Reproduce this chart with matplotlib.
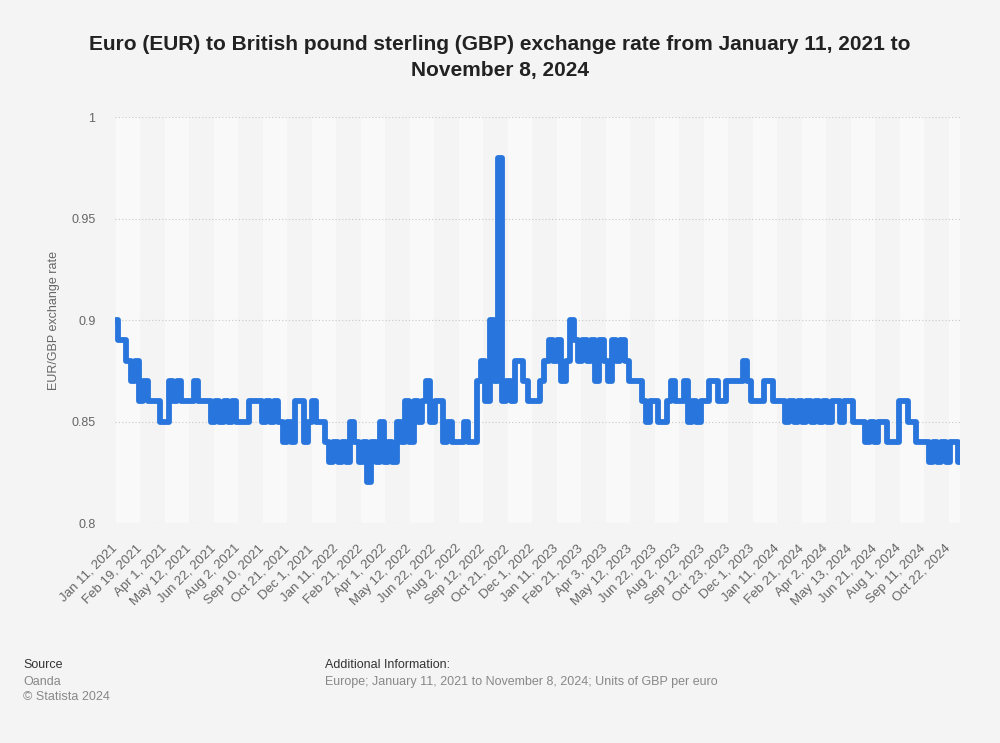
import matplotlib.pyplot as plt
import numpy as np
import pandas as pd

plt.rcParams['font.family'] = ['Liberation Sans', 'DejaVu Sans']

# weekly readings (Mondays) from Jan 11, 2021, plus the last day Nov 8, 2024
start = '2021-01-11'
week_dates = list(pd.date_range(start, '2024-11-04', freq='7D').strftime('%Y-%m-%d')) + ['2024-11-08']
rates = [
    0.90, 0.89, 0.89, 0.88, 0.87, 0.88, 0.86, 0.87, 0.86, 0.86,
    0.86, 0.85, 0.85, 0.87, 0.86, 0.87, 0.86, 0.86, 0.86, 0.87,
    0.86, 0.86, 0.86, 0.85, 0.86, 0.85, 0.86, 0.85, 0.86, 0.85,
    0.85, 0.85, 0.86, 0.86, 0.86, 0.85, 0.86, 0.85, 0.86, 0.85,
    0.84, 0.85, 0.84, 0.86, 0.86, 0.84, 0.85, 0.86, 0.85, 0.85,
    0.84, 0.83, 0.84, 0.83, 0.84, 0.83, 0.85, 0.84, 0.83, 0.84,
    0.82, 0.84, 0.83, 0.85, 0.83, 0.84, 0.83, 0.85, 0.84, 0.86,
    0.84, 0.86, 0.85, 0.86, 0.87, 0.85, 0.86, 0.86, 0.84, 0.85,
    0.84, 0.84, 0.84, 0.85, 0.84, 0.84, 0.87, 0.88, 0.86, 0.90,
    0.87, 0.98, 0.86, 0.87, 0.86, 0.88, 0.88, 0.87, 0.86, 0.86,
    0.86, 0.87, 0.88, 0.89, 0.88, 0.89, 0.87, 0.88, 0.90, 0.89,
    0.88, 0.89, 0.88, 0.89, 0.87, 0.89, 0.88, 0.87, 0.89, 0.88,
    0.89, 0.88, 0.87, 0.87, 0.87, 0.86, 0.85, 0.86, 0.86, 0.85,
    0.85, 0.86, 0.87, 0.86, 0.86, 0.87, 0.85, 0.86, 0.85, 0.86,
    0.86, 0.87, 0.87, 0.86, 0.86, 0.87, 0.87, 0.87, 0.87, 0.88,
    0.87, 0.86, 0.86, 0.86, 0.87, 0.87, 0.86, 0.86, 0.86, 0.85,
    0.86, 0.85, 0.86, 0.85, 0.86, 0.85, 0.86, 0.85, 0.86, 0.85,
    0.86, 0.86, 0.85, 0.86, 0.86, 0.85, 0.85, 0.85, 0.84, 0.85,
    0.84, 0.85, 0.85, 0.84, 0.84, 0.84, 0.86, 0.86, 0.85, 0.85,
    0.84, 0.84, 0.84, 0.83, 0.84, 0.83, 0.84, 0.83, 0.84, 0.84,
    0.83,
]

tick_labels = [
    'Jan 11, 2021', 'Feb 19, 2021', 'Apr 1, 2021', 'May 12, 2021', 'Jun 22, 2021',
    'Aug 2, 2021', 'Sep 10, 2021', 'Oct 21, 2021', 'Dec 1, 2021', 'Jan 11, 2022',
    'Feb 21, 2022', 'Apr 1, 2022', 'May 12, 2022', 'Jun 22, 2022', 'Aug 2, 2022',
    'Sep 12, 2022', 'Oct 21, 2022', 'Dec 1, 2022', 'Jan 11, 2023', 'Feb 21, 2023',
    'Apr 3, 2023', 'May 12, 2023', 'Jun 22, 2023', 'Aug 2, 2023', 'Sep 12, 2023',
    'Oct 23, 2023', 'Dec 1, 2023', 'Jan 11, 2024', 'Feb 21, 2024', 'Apr 2, 2024',
    'May 13, 2024', 'Jun 21, 2024', 'Aug 1, 2024', 'Sep 11, 2024', 'Oct 22, 2024',
]
y_ticks = [0.8, 0.85, 0.9, 0.95, 1.0]
y_tick_labels = ['0.8', '0.85', '0.9', '0.95', '1']

# business-day positions (the chart axis is one slot per trading day)
x = np.busday_count(start, np.array(week_dates, dtype='datetime64[D]'))
tick_pos = np.busday_count(start, pd.to_datetime(tick_labels, format='%b %d, %Y').values.astype('datetime64[D]'))
x_end = x[-1] + 0.5

fig = plt.figure(figsize=(10, 7.43), dpi=100, facecolor='#f4f4f4')
ax = fig.add_axes([0.115, 0.296, 0.845, 0.5465])
ax.set_facecolor('#f4f4f4')

# alternating column bands
bounds = list(tick_pos) + [x_end]
for k in range(0, len(tick_pos), 2):
    ax.axvspan(bounds[k], bounds[k + 1], color='#f9f9f9', lw=0, zorder=0)

ax.plot(x, rates, color='#2876dd', lw=4.2, drawstyle='steps-mid',
        solid_joinstyle='round', solid_capstyle='round', zorder=3)

ax.set_xlim(-1, x_end)
ax.set_ylim(0.8, 1.0)
ax.set_yticks(y_ticks)
ax.set_yticklabels(y_tick_labels)
ax.set_xticks(tick_pos)
ax.set_xticklabels(tick_labels, rotation=45, ha='right', va='center', rotation_mode='anchor')
ax.tick_params(axis='x', length=0, pad=17, labelsize=9.5, labelcolor='#666666')
ax.tick_params(axis='y', length=0, pad=14, labelsize=9, labelcolor='#666666')
ax.grid(axis='y', color='#c8c8c8', linestyle=(0, (1, 2)), lw=0.8, zorder=1)
for s in ax.spines.values():
    s.set_visible(False)
ax.set_ylabel('EUR/GBP exchange rate', color='#666666', fontsize=9, labelpad=8)

fig.text(0.5, 0.9226, 'Euro (EUR) to British pound sterling (GBP) exchange rate from January 11, 2021 to\nNovember 8, 2024',
         ha='center', va='center', fontsize=15, fontweight='bold', color='#222222', linespacing=1.45)

fig.text(0.023, 0.105, 'Source', fontsize=9, color='#333333', va='center')
fig.text(0.023, 0.082, 'Oanda', fontsize=9, color='#888888', va='center')
fig.text(0.023, 0.062, '\u00a9 Statista 2024', fontsize=9, color='#888888', va='center')
fig.text(0.325, 0.105, 'Additional Information:', fontsize=9, color='#333333', va='center')
fig.text(0.325, 0.082, 'Europe; January 11, 2021 to November 8, 2024; Units of GBP per euro',
         fontsize=9, color='#888888', va='center')

fig.savefig('out.png', dpi=100, facecolor=fig.get_facecolor())
